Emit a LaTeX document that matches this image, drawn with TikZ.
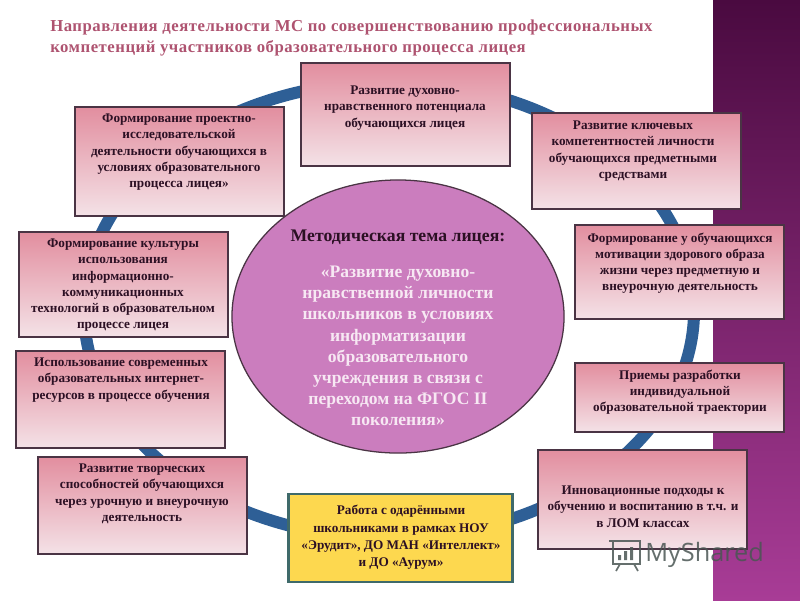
\documentclass[tikz,border=0pt]{standalone}
\usepackage{fontspec}
\setmainfont{Liberation Serif}
\newfontfamily\markfont{Open Sans}
\newfontfamily\titlefont[LetterSpace=3.0]{Liberation Serif}
\usetikzlibrary{shapes.geometric,positioning}
\definecolor{ringblue}{HTML}{2E5F96}
\definecolor{boxtop}{HTML}{E28E9F}
\definecolor{boxbottom}{HTML}{F4E2E7}
\definecolor{boxline}{HTML}{4A3444}
\definecolor{inktext}{HTML}{2C1024}
\definecolor{titlerose}{HTML}{AE5370}
\definecolor{goldfill}{HTML}{FDD84F}
\definecolor{goldline}{HTML}{3F6A6A}
\definecolor{themefill}{HTML}{CB7DBE}
\definecolor{themetext}{HTML}{F7E8F3}
\definecolor{striptop}{HTML}{4A0A40}
\definecolor{stripbottom}{HTML}{A83C96}
\definecolor{markgrey}{HTML}{4A5653}
\tikzstyle{ring} = [ellipse, draw = ringblue, line width = 0.3cm, inner sep = 0, minimum width = 15.25cm, minimum height = 11.4cm]
\tikzstyle{infobox} = [rectangle, minimum width = 5.225cm, draw = boxline, line width = 0.9pt, top color = boxtop, bottom color = boxbottom]
\tikzstyle{goldbox} = [rectangle, minimum width = 5.6cm, minimum height = 2.2cm, draw = goldline, line width = 1.8pt, fill = goldfill]
\tikzstyle{boxtext} = [anchor = north, align = center, inner sep = 0, text = inktext, font = \bfseries\fontsize{9.4}{11.4}\selectfont]
\tikzstyle{theme} = [ellipse, draw = boxline, line width = 0.9pt, fill = themefill, inner sep = 0, minimum width = 8.3cm, minimum height = 6.825cm]

\begin{document}
\begin{tikzpicture}[x = 0.025cm, y = -0.025cm]
\useasboundingbox (0,0) rectangle (800,600);

\fill [top color = striptop, bottom color = stripbottom] (713,0) rectangle (800,600);

\node(titletext) [anchor = north west, align = left, inner sep = 0, text = titlerose, font = \titlefont\bfseries\fontsize{11.9}{15}\selectfont] at (50,20) {Направления деятельности МС по совершенствованию  профессиональных\\компетенций участников образовательного процесса лицея};

\node(loop) [ring] at (389,310) {};

\node(spiritbox) [infobox, minimum height = 2.575cm] at (405.5,114.5) {};
\node(keybox)    [infobox, minimum height = 2.4cm] at (636.5,161) {};
\node(healthbox) [infobox, minimum height = 2.35cm] at (679.5,272) {};
\node(routebox)  [infobox, minimum height = 1.725cm] at (679.5,397.5) {};
\node(innovbox)  [infobox, minimum height = 2.475cm] at (642.5,499.5) {};
\node(giftedbox) [goldbox] at (400.5,538) {};
\node(creatbox)  [infobox, minimum height = 2.425cm] at (142.5,505.5) {};
\node(webbox)    [infobox, minimum height = 2.425cm] at (120.5,399.5) {};
\node(cultbox)   [infobox, minimum height = 2.625cm] at (123.5,284.5) {};
\node(projbox)   [infobox, minimum height = 2.725cm] at (179.5,161.5) {};

\node(spirittext) [boxtext] at (405,86) {Развитие духовно-\\нравственного потенциала\\обучающихся лицея};
\node(keytext)    [boxtext] at (633,121) {Развитие ключевых\\компетентностей личности\\обучающихся предметными\\средствами};
\node(healthtext) [boxtext] at (680,233) {Формирование у обучающихся\\мотивации здорового образа\\жизни через предметную и\\внеурочную деятельность};
\node(routetext)  [boxtext] at (680,370) {Приемы разработки\\индивидуальной\\образовательной траектории};
\node(innovtext)  [boxtext] at (643,486) {Инновационные подходы к\\обучению и воспитанию в т.ч. и\\в ЛОМ классах};
\node(giftedtext) [boxtext, font = \bfseries\fontsize{9.4}{12.3}\selectfont] at (401,505) {Работа с одарёнными\\школьниками в рамках НОУ\\«Эрудит», ДО МАН «Интеллект»\\и ДО «Аурум»};
\node(creattext)  [boxtext] at (142,464) {Развитие творческих\\способностей обучающихся\\через урочную и внеурочную\\деятельность};
\node(webtext)    [boxtext] at (121,358) {Использование современных\\образовательных интернет-\\ресурсов в процессе обучения};
\node(culttext)   [boxtext] at (123,239) {Формирование культуры\\использования\\информационно-\\коммуникационных\\технологий в образовательном\\процессе лицея};
\node(projtext)   [boxtext] at (179,114) {Формирование проектно-\\исследовательской\\деятельности обучающихся в\\условиях образовательного\\процесса лицея»};

\node(themeshape) [theme] at (398,316.5) {};
\node(themehead) [anchor = north, inner sep = 0, text = inktext, font = \bfseries\fontsize{12.6}{15}\selectfont] at (398,230) {Методическая тема лицея:};
\node(themebody) [anchor = north, align = center, inner sep = 0, text = themetext, font = \bfseries\fontsize{12.5}{15}\selectfont] at (398,266) {«Развитие духовно-\\нравственной личности\\школьников в условиях\\информатизации\\образовательного\\учреждения в связи с\\переходом на ФГОС II\\поколения»};

\node(marktext) [anchor = west, inner sep = 0, text = markgrey, opacity = 0.85, font = \markfont\fontsize{18}{20}\selectfont] at (645,555) {MyShared};
\draw [markgrey, line width = 1.2pt, opacity = 0.85] (609,541) -- (640,541) -- (640,564) -- (613,564) -- (613,541) (620,564) -- (616,571) (634,564) -- (638,571);
\fill [markgrey, opacity = 0.85] (618,555) rectangle (621,560) (624,551) rectangle (627,560) (630,547) rectangle (633,560);

\end{tikzpicture}
\end{document}
